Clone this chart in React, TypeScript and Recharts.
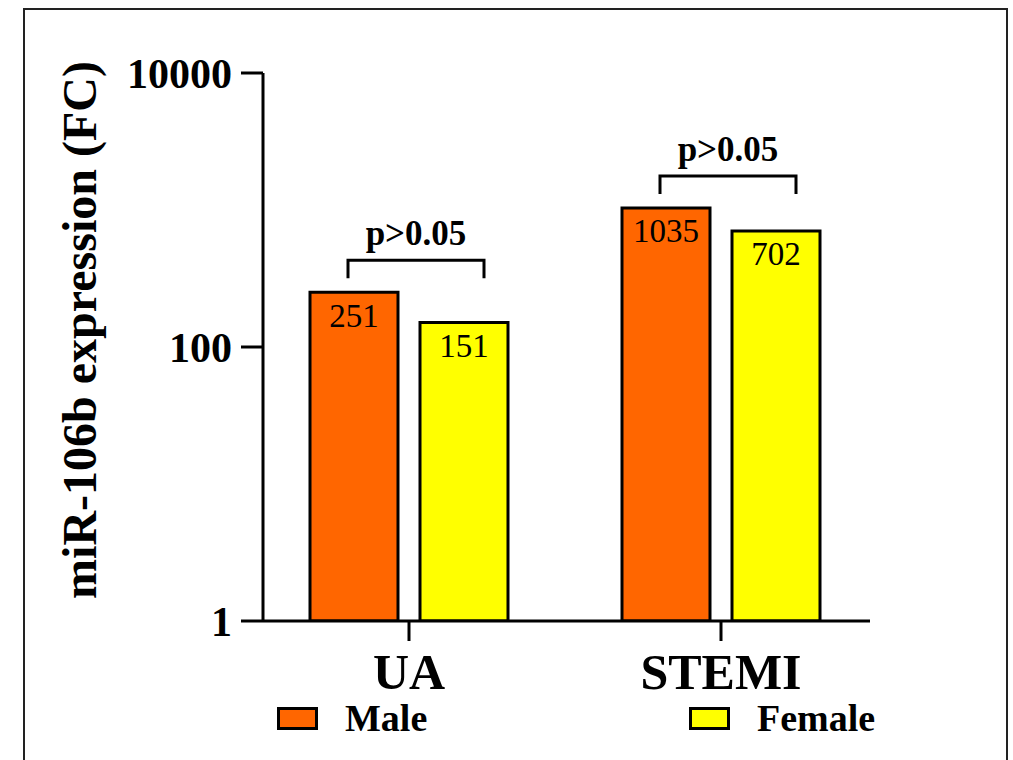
import { Bar, BarChart, LabelList, Legend, XAxis, YAxis } from 'recharts';

const groups = ['UA', 'STEMI'];
const maleValues = [251, 1035];
const femaleValues = [151, 702];
const pValues = ['p>0.05', 'p>0.05'];
const yTicks = [1, 100, 10000];
const seriesNames = ['Male', 'Female'];
const seriesColors = ['#ff6600', '#ffff00'];

const data = groups.map((group, i) => ({
  group,
  male: maleValues[i],
  female: femaleValues[i],
  p: pValues[i],
}));

const FONT = '"Liberation Serif", "Times New Roman", serif';
const legendLeft = [277, 689];

// bracket + p-value drawn over each male/female pair
function PBracket(props: any) {
  const { x, y, width, value } = props;
  const left = x + 38;
  const right = x + width * 2 - 2;
  const top = y - 32;
  return (
    <g>
      <path
        d={`M${left},${top + 18}V${top}H${right}V${top + 18}`}
        fill="none"
        stroke="#000"
        strokeWidth={3}
      />
      <text
        x={(left + right) / 2}
        y={top - 15}
        textAnchor="middle"
        fontFamily={FONT}
        fontWeight="bold"
        fontSize={35}
        fill="#000"
      >
        {value}
      </text>
    </g>
  );
}

function YTitle(props: any) {
  const { viewBox } = props;
  const cx = viewBox.x + 96;
  const cy = 330;
  return (
    <text
      x={cx}
      y={cy}
      transform={`rotate(-90, ${cx}, ${cy})`}
      textAnchor="middle"
      fontFamily={FONT}
      fontWeight="bold"
      fontSize={48}
      fill="#000"
    >
      miR-106b expression (FC)
    </text>
  );
}

function LegendBox({ payload }: any) {
  const items = [...(payload || [])].sort(
    (a: any, b: any) => seriesNames.indexOf(a.value) - seriesNames.indexOf(b.value),
  );
  return (
    <div style={{ position: 'relative', width: 1013, height: 41 }}>
      {items.map((item: any, i: number) => (
        <div
          key={item.value}
          style={{
            position: 'absolute',
            left: legendLeft[i],
            top: 0,
            height: 41,
            display: 'flex',
            alignItems: 'center',
          }}
        >
          <span
            style={{
              display: 'inline-block',
              width: 35,
              height: 17,
              border: '3px solid #000',
              background: item.color,
              marginRight: 27,
            }}
          />
          <span
            style={{
              fontFamily: FONT,
              fontWeight: 'bold',
              fontSize: 38,
              lineHeight: '41px',
              color: '#000',
            }}
          >
            {item.value}
          </span>
        </div>
      ))}
    </div>
  );
}

export default function App() {
  return (
    <div
      style={{
        position: 'absolute',
        left: 0,
        top: 0,
        width: 1013,
        height: 760,
        overflow: 'hidden',
        background: '#fff',
      }}
    >
      <div
        style={{
          position: 'absolute',
          left: 23,
          top: 8,
          width: 981,
          height: 750,
          borderTop: '2px solid #222',
          borderLeft: '2px solid #222',
          borderRight: '2px solid #222',
        }}
      />
      <div style={{ position: 'absolute', left: 0, top: 0 }}>
        <BarChart
          width={1013}
          height={760}
          data={data}
          margin={{ top: 73, right: 143, left: 0, bottom: 59 }}
          barSize={88}
          barGap={22}
        >
          <XAxis
            dataKey="group"
            height={80}
            padding={{ left: -10, right: -7 }}
            axisLine={{ stroke: '#000', strokeWidth: 3 }}
            tickLine={{ stroke: '#000', strokeWidth: 3 }}
            tickSize={20}
            tickMargin={12}
            tick={{ fill: '#000', fontSize: 50, fontWeight: 'bold', fontFamily: FONT }}
          />
          <YAxis
            scale="log"
            domain={[1, 10000]}
            ticks={yTicks}
            allowDataOverflow
            width={263}
            axisLine={{ stroke: '#000', strokeWidth: 3 }}
            tickLine={{ stroke: '#000', strokeWidth: 3 }}
            tickSize={22}
            tickMargin={9}
            tick={{ fill: '#000', fontSize: 42, fontWeight: 'bold', fontFamily: FONT }}
            label={{ content: YTitle }}
          />
          <Legend
            layout="vertical"
            verticalAlign="middle"
            align="center"
            content={LegendBox}
            wrapperStyle={{ left: 0, top: 698, width: 1013, margin: 0 }}
          />
          <Bar
            dataKey="male"
            name={seriesNames[0]}
            fill={seriesColors[0]}
            stroke="#000"
            strokeWidth={3}
            isAnimationActive={false}
          >
            <LabelList
              dataKey="male"
              position="insideTop"
              offset={11}
              fill="#000"
              fontSize={33}
              fontFamily={FONT}
            />
            <LabelList dataKey="p" content={PBracket} />
          </Bar>
          <Bar
            dataKey="female"
            name={seriesNames[1]}
            fill={seriesColors[1]}
            stroke="#000"
            strokeWidth={3}
            isAnimationActive={false}
          >
            <LabelList
              dataKey="female"
              position="insideTop"
              offset={11}
              fill="#000"
              fontSize={33}
              fontFamily={FONT}
            />
          </Bar>
        </BarChart>
      </div>
    </div>
  );
}
